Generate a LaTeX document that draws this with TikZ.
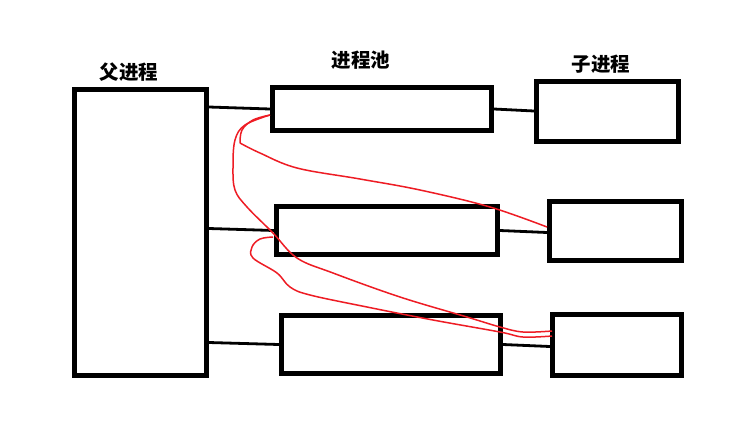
\documentclass[tikz,border=0pt]{standalone}
\usepackage{fontspec}
\usepackage{xcolor}
\usepackage{tikz}
\usetikzlibrary{positioning,calc}
\newfontfamily\cjk{Noto Sans CJK SC}
\definecolor{Ink}{HTML}{000000}
\definecolor{Pen}{HTML}{EE1C24}

\begin{document}
\begin{tikzpicture}[
  x=1pt,y=-1pt,
  proc/.style={draw=Ink,line width=5pt,inner sep=0pt,fill=white},
  link/.style={Ink,line width=2.8pt},
  stroke/.style={Pen,line width=1.5pt,line join=round},
  title/.style={font=\cjk\bfseries\fontsize{19.5}{21}\selectfont,color=Ink}
]
\useasboundingbox[fill=white] (0,0) rectangle (738,432);

% parent, pool and child processes
\node[proc,minimum width=132pt,minimum height=286pt] (parent) at (140.5,232.5) {};
\node[proc,minimum width=219pt,minimum height=43pt] (pool1) at (382,109) {};
\node[proc,minimum width=221pt,minimum height=48pt] (pool2) at (387,230.5) {};
\node[proc,minimum width=219pt,minimum height=58pt] (pool3) at (391,344.5) {};
\node[proc,minimum width=142pt,minimum height=60pt] (child1) at (607.5,111.5) {};
\node[proc,minimum width=132pt,minimum height=59pt] (child2) at (615.5,231) {};
\node[proc,minimum width=129pt,minimum height=61pt] (child3) at (617,345) {};

\node[title] (tparent) at (129,72) {父进程};
\node[title] (tpool) at (361,60) {进程池};
\node[title] (tchild) at (601,64) {子进程};

% links
\foreach \i in {1,2,3} {
  \draw[link] ([yshift=2pt]pool\i.west -| parent.east) -- (pool\i.west);
  \draw[link] (pool\i.east) -- ([yshift=-2pt]pool\i.east -| child\i.west);
}

% hand-drawn red strokes
\coordinate (a0) at (270,115);
\coordinate (a1) at (547,227);
\coordinate (c0) at (273,237);
\coordinate (c1) at (552,336);
\draw[stroke] plot[smooth,tension=0.6] coordinates {(a0) (253,120) (242,130) (240,143)};
\draw[stroke] plot[smooth,tension=0.6] coordinates {(240,143) (260,153) (297,168) (360,179) (420,190) (490,207) (a1)};
\draw[stroke] plot[smooth,tension=0.6] coordinates {(a0) (245,125) (235,140) (233,167) (235,190) (247,207) (273,233) (297,258) (333,273) (400,297) (467,317) (500,327) (523,332) (552,331)};
\draw[stroke] plot[smooth,tension=0.6] coordinates {(c0) (260,239) (252,247) (253,258) (277,273) (290,287) (310,295) (367,307) (433,320) (500,332) (523,337) (c1)};
\end{tikzpicture}
\end{document}
